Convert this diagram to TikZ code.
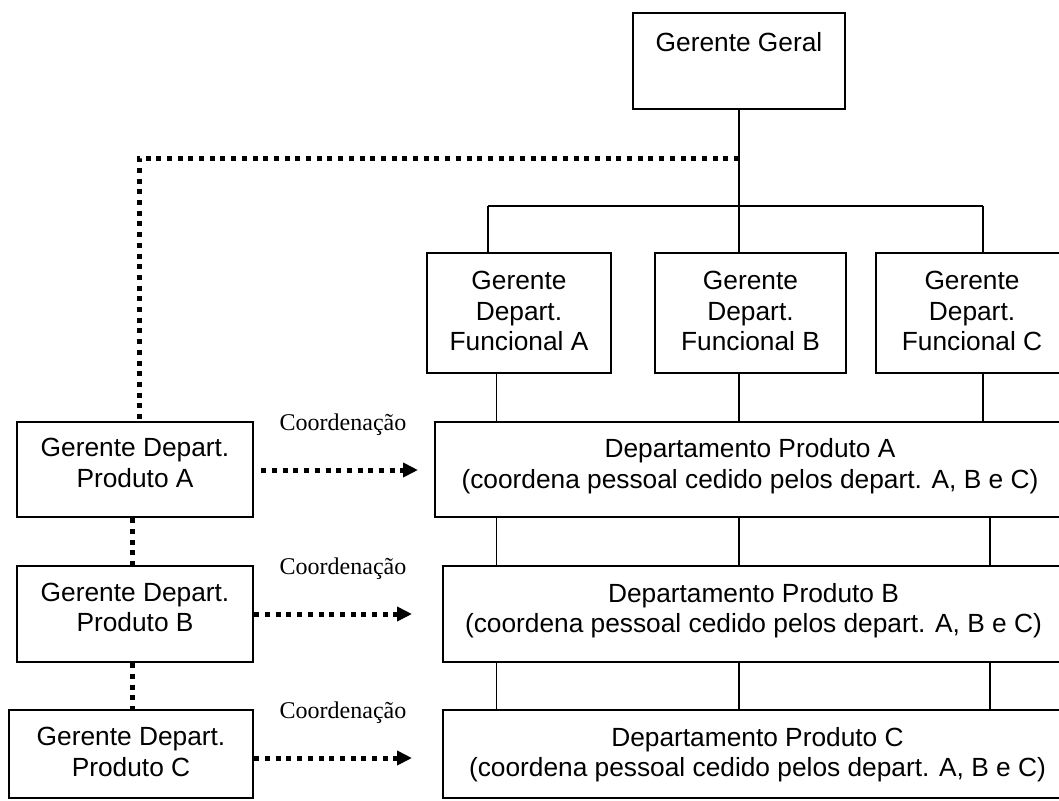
\documentclass[tikz,border=0pt]{standalone}
\usepackage{fontspec}
\setmainfont{Liberation Sans}
\newfontfamily\serifcap{Liberation Serif}
\usetikzlibrary{arrows.meta}

\begin{document}
\begin{tikzpicture}[x=1pt,y=-1pt,
  box/.style={draw, line width=2.6pt, rectangle, inner sep=0pt},
  lbl/.style={font=\fontsize{26.3}{30.5}\selectfont, align=center, inner sep=0pt},
  link/.style={line width=1.6pt},
  dots/.style={line width=5pt, dash pattern=on 5pt off 5.7pt},
  coordarrow/.style={dots, -{Triangle[length=15pt,width=14pt]}},
  coordlbl/.style={font=\serifcap\fontsize{24}{28}\selectfont, anchor=base, inner sep=0pt}]

\useasboundingbox (0,0) rectangle (1059,800);
\begin{scope}
\clip (0,0) rectangle (1059,800);

% top manager
\node[box, minimum width=212pt, minimum height=96pt] (gg) at (739,61) {};
\node[lbl] (ggt) at (739,42) {Gerente Geral};

% functional department managers
\node[box, minimum width=184pt, minimum height=120pt] (fa) at (519,313) {};
\node[box, minimum width=191pt, minimum height=120pt] (fb) at (750.5,313) {};
\node[box, minimum width=192pt, minimum height=120pt] (fc) at (972,313) {};
\node[lbl] (fat) at (519,311) {Gerente\\Depart.\\Funcional A};
\node[lbl] (fbt) at (750.5,311) {Gerente\\Depart.\\Funcional B};
\node[lbl] (fct) at (972,311) {Gerente\\Depart.\\Funcional C};

% product departments
\node[box, minimum width=630pt, minimum height=95pt] (da) at (750,469.5) {};
\node[box, minimum width=621pt, minimum height=96pt] (db) at (753.5,614) {};
\node[box, minimum width=629pt, minimum height=88pt] (dc) at (757.5,754) {};
\node[lbl] (dat) at (750,466) {Departamento Produto A\\(coordena pessoal cedido pelos depart. A, B e C)};
\node[lbl] (dbt) at (753.5,610.75) {Departamento Produto B\\(coordena pessoal cedido pelos depart. A, B e C)};
\node[lbl] (dct) at (757.5,754.75) {Departamento Produto C\\(coordena pessoal cedido pelos depart. A, B e C)};

% product department managers
\node[box, minimum width=236pt, minimum height=95pt] (pa) at (135,469.5) {};
\node[box, minimum width=236pt, minimum height=96pt] (pb) at (135,614) {};
\node[box, minimum width=244pt, minimum height=88pt] (pc) at (131,754) {};
\node[lbl] (pat) at (135,463) {Gerente Depart.\\Produto A};
\node[lbl] (pbt) at (135,607.5) {Gerente Depart.\\Produto B};
\node[lbl] (pct) at (131,752) {Gerente Depart.\\Produto C};

% reporting lines
\coordinate (hub) at (739,206);
\coordinate (jA) at (488,206);
\coordinate (jC) at (983,206);
\draw[link] (gg) -- (hub);
\draw[link] (jA) -- (jC);
\draw[link] (jA) -- (jA |- fa.north);
\draw[link] (hub) -- (hub |- fb.north);
\draw[link] (jC) -- (jC |- fc.north);

% columns linking functional managers to product departments
\coordinate (cA) at (496.5,0);
\coordinate (cB) at (739,0);
\coordinate (cC) at (983,0);
\coordinate (cCC) at (990,0);
\draw[link] (cA |- fa.south) -- (cA |- da.north);
\draw[link] (cB |- fb.south) -- (cB |- da.north);
\draw[link] (cC |- fc.south) -- (cC |- da.north);
\draw[link] (cA |- da.south) -- (cA |- db.north);
\draw[link] (cB |- da.south) -- (cB |- db.north);
\draw[link] (cCC |- da.south) -- (cCC |- db.north);
\draw[link] (cA |- db.south) -- (cA |- dc.north);
\draw[link] (cB |- db.south) -- (cB |- dc.north);
\draw[link] (cCC |- db.south) -- (cCC |- dc.north);

% dotted staff lines
\coordinate (dtop) at (739,158);
\coordinate (dcorner) at (139,158);
\coordinate (dcol) at (132,0);
\draw[dots] (dtop) -- (dcorner) -- (dcorner |- pa.north);
\draw[dots] (dcol |- pa.south) -- (dcol |- pb.north);
\draw[dots] (dcol |- pb.south) -- (dcol |- pc.north);

% coordination arrows
\coordinate (tipA) at (418,470);
\coordinate (tipB) at (412,614);
\coordinate (tipC) at (412,758);
\draw[coordarrow] ([xshift=7pt]pa.east |- tipA) -- (tipA);
\draw[coordarrow] (pb.east |- tipB) -- (tipB);
\draw[coordarrow] (pc.east |- tipC) -- (tipC);
\node[coordlbl] (ca) at (343,430) {Coordenação};
\node[coordlbl] (cb) at (343,574) {Coordenação};
\node[coordlbl] (cc) at (343,718) {Coordenação};

\end{scope}
\end{tikzpicture}
\end{document}
